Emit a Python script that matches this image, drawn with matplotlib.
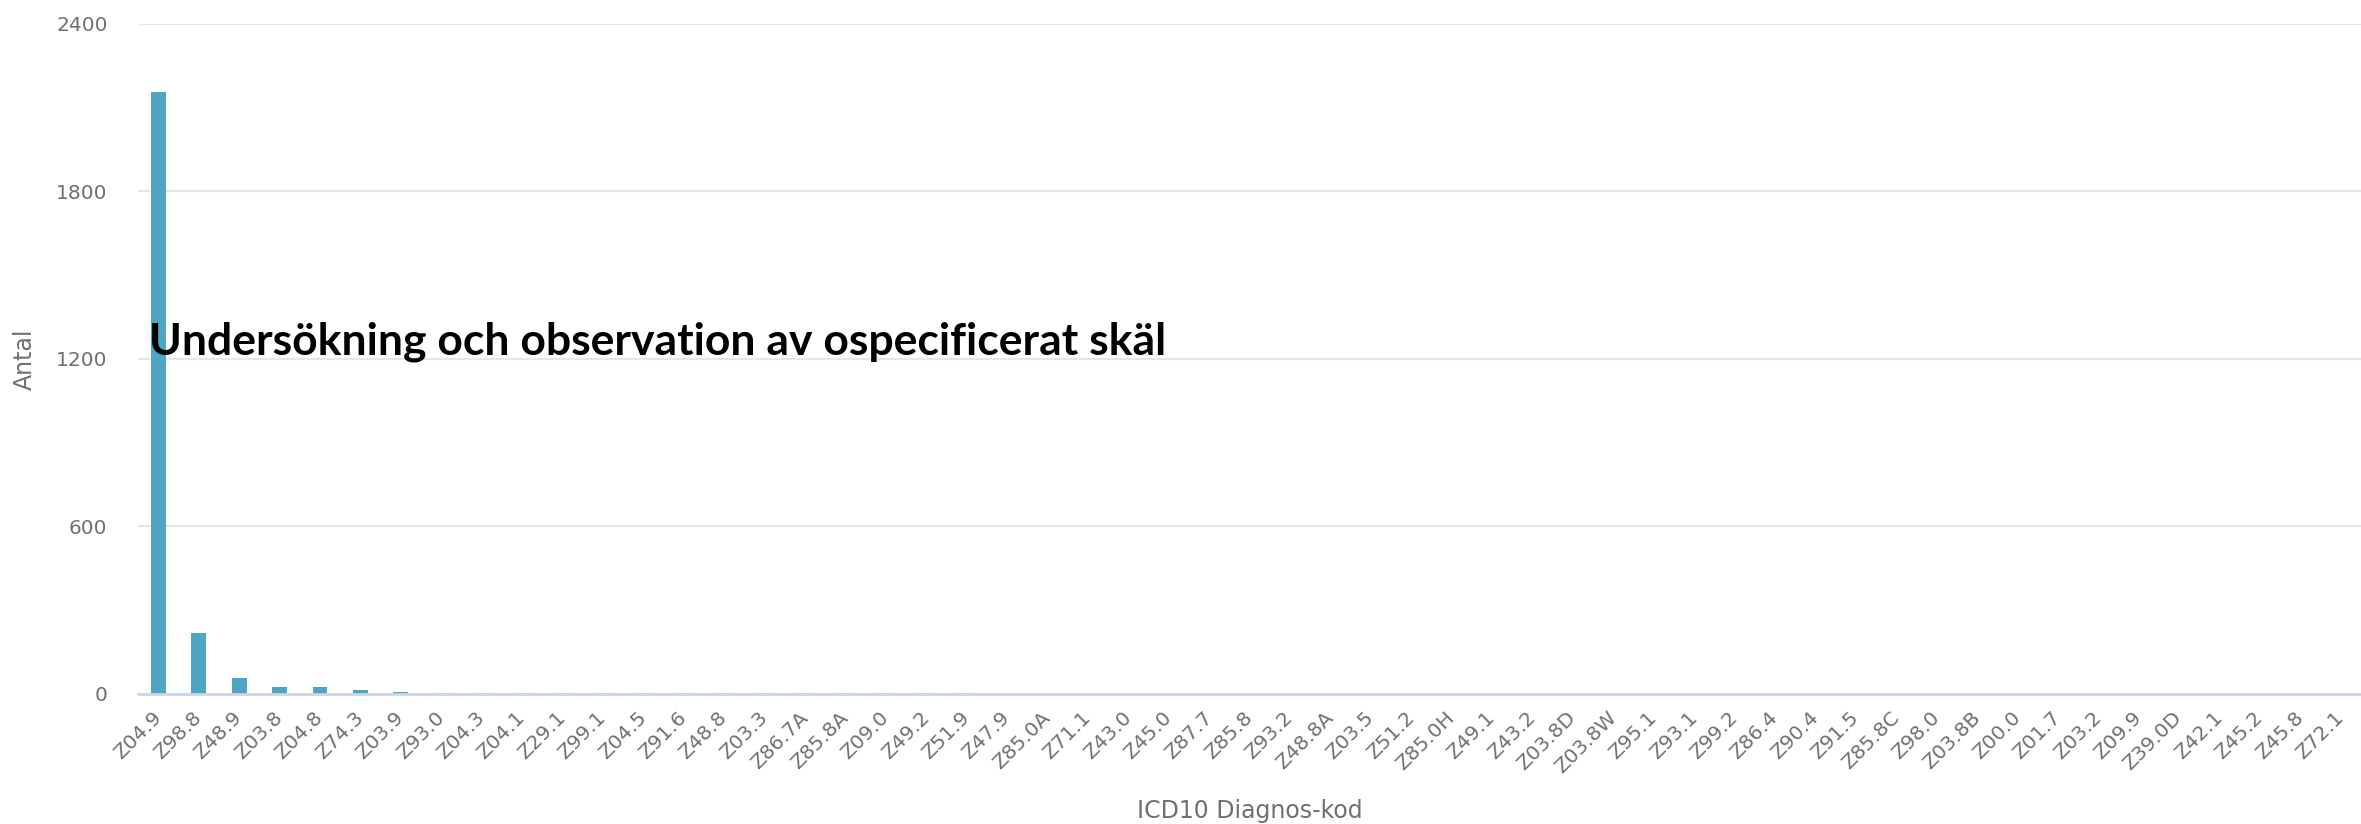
import numpy as np
import matplotlib.pyplot as plt

codes = ["Z04.9", "Z98.8", "Z48.9", "Z03.8", "Z04.8", "Z74.3", "Z03.9", "Z93.0",
         "Z04.3", "Z04.1", "Z29.1", "Z99.1", "Z04.5", "Z91.6", "Z48.8", "Z03.3",
         "Z86.7A", "Z85.8A", "Z09.0", "Z49.2", "Z51.9", "Z47.9", "Z85.0A", "Z71.1",
         "Z43.0", "Z45.0", "Z87.7", "Z85.8", "Z93.2", "Z48.8A", "Z03.5", "Z51.2",
         "Z85.0H", "Z49.1", "Z43.2", "Z03.8D", "Z03.8W", "Z95.1", "Z93.1", "Z99.2",
         "Z86.4", "Z90.4", "Z91.5", "Z85.8C", "Z98.0", "Z03.8B", "Z00.0", "Z01.7",
         "Z03.2", "Z09.9", "Z39.0D", "Z42.1", "Z45.2", "Z45.8", "Z72.1"]
antal = [2155, 218, 57, 24, 24, 15, 8, 4,
         3, 3, 3, 3, 2, 2, 2, 2,
         2, 2, 2, 2, 2, 1, 1, 1,
         1, 1, 1, 1, 1, 1, 1, 1,
         1, 1, 1, 1, 1, 1, 1, 1,
         1, 1, 1, 1, 1, 1, 1, 1,
         1, 1, 1, 1, 1, 1, 1]
yticks = [0, 600, 1200, 1800, 2400]
note = "Undersökning och observation av ospecificerat skäl"

fig = plt.figure(figsize=(23.61, 8.24), dpi=100)
ax = fig.add_axes([0.0585, 0.158, 0.9415, 0.813])

x = np.arange(len(codes))
ax.bar(x, antal, width=0.37, color='#4fa5c2', zorder=3)

ax.set_xlim(-0.5, len(codes) - 0.5)
ax.set_ylim(0, 2400)
ax.set_yticks(yticks)
ax.set_xticks(x)
ax.set_xticklabels(codes, rotation=45, ha='right', va='center', rotation_mode='anchor')
ax.tick_params(axis='x', length=0, pad=15, labelsize=14.5, labelcolor='#707070')
ax.tick_params(axis='y', length=0, pad=22, labelsize=14.5, labelcolor='#707070')

ax.grid(axis='y', color='#e6e6e6', lw=1.5, zorder=0)
for s in ['top', 'right', 'left']:
    ax.spines[s].set_visible(False)
ax.spines['bottom'].set_color('#ccd6eb')
ax.spines['bottom'].set_linewidth(2)
ax.spines['bottom'].set_zorder(4)

ax.set_ylabel("Antal", fontsize=17, color='#707070', labelpad=14)
ax.set_xlabel("ICD10 Diagnos-kod", fontsize=17, color='#707070', labelpad=16)

ax.text(-0.22, 1260, note, fontsize=32, fontweight='bold', family='Lato',
        color='black', va='center', ha='left', zorder=5)

fig.savefig("out.png", dpi=100)
